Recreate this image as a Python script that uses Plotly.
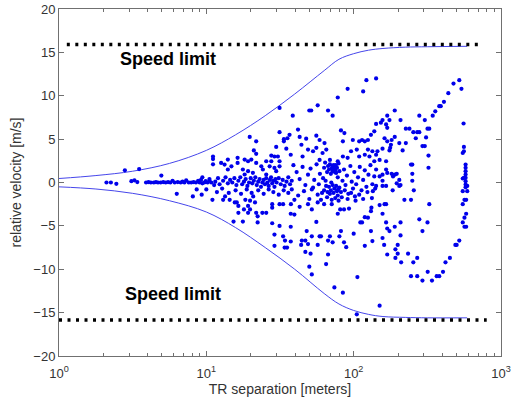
import plotly.graph_objects as go

# ---------------- data ----------------
sep = [
    # near-zero strip, short range
    2.1, 2.25, 2.45, 2.8, 3.1, 3.25, 3.5, 3.4, 3.9, 4.05, 4.2, 4.4, 4.55, 4.7, 4.95, 4.9, 5.1, 5.3, 5.5, 5.7,
    5.9, 6.1, 6.3, 6.4, 6.7, 6.9, 7.1, 7.3, 7.6, 7.9, 8.1, 8.2, 8.5, 8.6, 8.8, 9.0, 9.2, 9.4, 9.7, 9.9,
    10.2, 10.5, 10.8, 11.1, 11.1, 11.3,
    # 11-38 m, positive
    19.7, 31.4, 33.6, 33.6, 21.8, 21.0, 21.8, 29.8, 29.0, 27.6, 30.6, 31.4, 34.9, 11.1, 12.6, 13.3, 14.0, 16.3, 16.3, 14.8,
    14.0, 18.2, 19.2, 20.2, 21.8, 23.6, 25.5, 26.9, 27.6, 29.0, 17.7, 19.2, 20.7, 18.2, 24.2, 25.5, 29.8, 31.4, 31.4,
    # 9-38 m, dense strip
    9.4, 10.5, 11.5, 12.0, 12.3, 13.0, 13.5, 14.0, 14.5, 15.0, 15.5, 16.0, 16.5, 17.0, 17.5, 18.0, 18.5, 19.0, 19.5, 20.0,
    20.5, 21.0, 21.5, 22.0, 22.5, 23.0, 23.5, 24.0, 24.5, 25.0, 25.5, 26.0, 26.5, 27.0, 27.5, 28.0, 28.5, 29.0, 29.5, 30.0,
    31.0, 32.0, 33.0, 34.0, 35.0, 36.0, 37.0, 38.0,
    10.0, 11.8, 12.8, 14.2, 15.8, 17.2, 18.8, 20.3, 22.5, 24.5, 26.5, 28.5, 31.0, 33.5, 36.0,
    # 9-38 m, negative
    9.3, 11.0, 13.0, 13.4, 14.4, 15.6, 16.5, 16.1, 18.4, 19.8, 20.8, 21.4, 19.2, 18.0, 19.8, 16.5, 19.2, 21.8, 24.0, 25.5,
    22.3, 15.3, 17.7, 22.3, 28.0, 31.4, 28.0, 28.0, 31.4, 33.2, 29.0, 33.2, 34.2, 29.0, 35.3,
    # 38-145 m, positive
    122, 142, 91, 116, 78, 57, 51.5, 50, 67, 72, 38.6, 142, 41.9, 82, 86.5, 138, 131, 125, 119, 36.7,
    35.5, 43, 47.6, 55.8, 58.7, 84.5, 98.7, 109, 114, 44.2, 49, 53, 55.8, 63.4, 65.2, 61.5, 37.4, 45, 58.7, 69,
    78, 84.5, 91, 96, 105, 109, 119, 125, 128, 134, 142, 138,
    # 38-145 m, dense middle
    39, 41, 43, 45, 47, 49, 51, 52, 54, 56, 58, 59, 61, 62, 63, 64, 65, 66, 67, 68,
    69, 70, 71, 72, 73, 74, 75, 76, 77, 78, 79, 80, 68, 70, 72, 73, 74, 76, 77, 78,
    80, 82, 84, 86, 88, 90, 92, 95, 97, 99, 101, 104, 107, 110, 113, 116, 119, 122, 126, 130,
    134, 138, 142,
    38, 42, 46, 50, 53, 57, 60, 63, 66, 69, 71, 75, 79, 83, 87, 91, 96, 103, 109, 116,
    124, 133, 140,
    71.5, 73.5, 75.5, 74.5, 72.5, 76.5, 70.5, 78.5, 66.5, 64.5,
    # 38-145 m, negative
    39.6, 37.5, 43, 49, 52, 57, 63, 71, 81, 86, 93, 102, 131, 135, 37.4, 39.6, 78, 119, 125, 132,
    55.8, 111, 114, 37.4, 48, 52, 58.7, 60, 69, 80, 82, 100, 131, 37.4, 34, 44.5, 47, 49, 44, 57,
    67, 72, 86, 89, 119, 134, 47, 51, 67, 50, 52, 65, 106, 74, 84.5, 105, 150,
    # 145-600 m, positive
    521, 476, 539, 439, 410, 390, 381, 358, 344, 279, 304, 326, 190, 169, 175, 157, 208, 153, 166, 169,
    226, 239, 254, 270, 279, 264, 310, 317, 162, 169, 181, 190, 204, 226, 179, 177, 175, 157, 215, 293,
    304, 322, 322, 245, 250, 150, 145, 166, 557, 560, 560, 550, 575, 575, 575, 575, 575, 560, 550, 575,
    575, 575,
    166, 169, 157, 150, 181, 185, 190, 196, 204, 250, 250, 208, 196, 157, 166,
    # 145-600 m, negative
    142, 157, 204, 184, 256, 221, 245, 150, 162, 166, 326, 157, 166, 190, 208, 279, 317, 169, 175, 293,
    208, 157, 161, 199, 192, 199, 169, 192, 210, 234, 254, 270, 245, 270, 293, 318, 340, 366, 381, 404,
    420, 450, 490, 500, 521, 550, 565, 580, 565, 580, 550, 565, 580, 550, 590, 590,
]

rel_vel = [
    0.0, 0.0, -0.15, 1.4, 0.15, 0.25, 1.55, 0.05, 0.0, 0.05, 0.0, 0.0, 0.05, 0.0, 0.8, 0.0, 0.05, 0.0, 0.05, 0.0,
    0.2, 0.0, -1.3, 0.05, 0.0, 0.1, 0.0, 0.25, 0.0, 0.0, -1.6, 0.05, 0.0, -0.8, 0.2, 0.0, 0.3, -0.1, 0.0, 0.15,
    0.0, 0.2, 0.0, 3.0, 2.1, -0.3,
    5.25, 5.8, 5.0, 4.75, 4.75, 3.7, 3.3, 4.1, 3.0, 3.1, 3.0, 2.45, 3.9, 2.7, 2.26, 2.07, 2.64, 2.84, 2.26, 1.87,
    1.5, 2.64, 2.45, 2.64, 2.26, 1.87, 2.45, 1.87, 2.45, 1.68, 1.5, 1.3, 1.11, 0.92, 1.5, 0.92, 1.3, 1.87, 8.6,
    0.6, 0.4, 0.1, 0.5, -0.2, 0.2, 0.6, -0.1, 0.3, 0.0, 0.5, -0.3, 0.2, 0.6, -0.2, 0.1, 0.4, -0.4, 0.0, 0.5,
    -0.1, 0.2, 0.6, -0.3, 0.1, 0.4, -0.5, 0.0, 0.3, -0.2, 0.5, 0.0, -0.4, 0.3, 0.6, -0.1, 0.2, -0.5, 0.4, 0.0,
    0.5, -0.2, 0.3, -0.4, 0.1, 0.6, -0.2, 0.2,
    -0.8, -1.1, -0.7, -1.2, -0.9, -1.3, -0.8, -1.2, -0.9, -1.3, -0.8, -1.1, -1.4, -0.9, -1.2,
    -1.4, -2.0, -2.0, -1.6, -2.0, -2.3, -2.7, -2.3, -2.0, -2.1, -1.6, -2.3, -2.7, -3.1, -3.1, -3.5, -3.5, -3.5, -3.5, -3.5,
    -3.9, -4.5, -4.5, -4.6, -4.7, -5.0, -2.5, -2.9, -2.5, -2.5, -6.0, -6.2, -6.7, -7.3, -7.5,
    11.8, 12.0, 10.8, 10.5, 9.8, 8.9, 8.3, 8.3, 8.3, 7.7, 7.7, 6.75, 6.1, 6.0, 5.7, 5.9, 5.5, 4.9, 4.75, 5.5,
    5.1, 5.25, 5.05, 5.4, 4.9, 4.75, 4.9, 4.75, 4.9, 4.35, 3.8, 3.6, 4.0, 4.55, 3.8, 3.4, 3.2, 3.0, 2.6, 2.6,
    2.45, 3.0, 2.85, 3.6, 3.8, 3.0, 3.2, 3.8, 3.0, 3.6, 3.2, 2.45,
    2.0, 1.2, 0.4, 1.8, -0.3, 0.9, 1.6, -0.8, 0.3, 2.1, -0.2, 1.0, -1.2, 0.5, 1.7, 2.3, -0.4, 1.2, 1.9, 1.5,
    2.1, 1.0, 1.6, 1.3, 2.0, 1.8, 1.4, 1.1, 1.7, 0.6, 2.2, 1.3, -0.5, -0.9, -0.3, -1.2, -0.7, -0.4, -1.0, -1.5,
    -0.6, -1.1, 0.2, 1.5, -0.3, 0.8, -1.3, 1.9, 0.1, -0.7, 1.2, -0.2, 0.6, 1.8, -0.9, 0.3, 1.4, -0.5, 0.9, 2.0,
    -0.2, 0.7, 1.5,
    -0.8, -1.5, -1.0, -1.9, -0.6, -1.4, -2.0, -0.9, -1.7, -1.3, -2.0, -1.8, -2.1, -1.7, -0.9, -1.9, -1.2, -2.1, -1.4, -1.9,
    -1.1, -1.8, -0.7,
    1.9, 1.6, 2.0, 1.2, 1.5, 1.7, 0.0, -0.8, -1.1, 0.2,
    -2.0, -2.5, -2.8, -2.5, -3.1, -2.3, -2.5, -2.5, -3.1, -3.1, -3.0, -1.6, -3.3, -1.0, -3.6, -3.7, -3.6, -4.0, -4.05, -2.9,
    -4.55, -4.6, -4.6, -5.1, -5.6, -6.2, -6.2, -6.2, -6.2, -6.2, -5.6, -5.9, -5.6, -6.8, -7.5, -6.7, -6.7, -7.1, -7.2, -7.2,
    -6.7, -6.9, -6.9, -7.45, -7.3, -6.75, -8.0, -8.2, -8.3, -9.7, -10.6, -9.4, -10.9, -12.1, -12.7, -15.2, -14.2,
    11.8, 11.4, 10.8, 10.3, 9.3, 8.8, 8.8, 8.2, 7.7, 7.7, 7.2, 6.2, 8.3, 7.7, 7.2, 7.2, 7.2, 6.9, 6.7, 6.3,
    6.2, 6.2, 5.8, 5.8, 5.8, 5.1, 5.2, 6.2, 5.1, 4.75, 4.9, 5.25, 4.55, 4.55, 4.35, 4.0, 3.7, 3.9, 3.7, 4.2,
    4.2, 3.1, 1.7, 2.07, 2.07, 2.6, 3.6, 2.45, 6.8, 4.1, 3.6, 3.4, 2.07, 1.7, 1.3, 0.92, 0.54, 0.54, 0.46, 0.15,
    -0.23, -0.54,
    1.5, 1.1, 0.9, 0.7, 1.0, 0.7, 0.9, 1.0, 0.3, 1.0, 0.2, -0.3, -0.1, 0.2, -0.4,
    -0.4, -0.4, -0.4, -0.9, -0.9, -2.0, -2.0, -2.6, -2.5, -2.5, -2.5, -3.6, -4.6, -5.1, -4.6, -4.25, -4.6, -5.3, -5.6, -5.6,
    -6.1, -6.4, -7.2, -7.2, -7.7, -8.2, -8.3, -8.7, -9.2, -8.2, -9.2, -8.7, -10.8, -10.8, -11.3, -10.3, -11.3, -10.8, -10.8, -10.3,
    -9.2, -8.7, -7.2, -7.2, -6.7, -4.6, -5.1, -5.1, -4.05, -3.6, -2.5, -2.0, -2.0, -1.0, -1.0, -0.4,
]

# envelope curves
env_x = [1.0, 1.78, 3.16, 5.62, 10.0, 15.8, 25.1, 39.8, 63.1, 79.4, 100, 126, 158, 224, 316, 589]
env_up_y = [0.46, 0.8, 1.3, 2.2, 3.7, 5.5, 7.7, 10.2, 12.9, 14.2, 14.85, 15.25, 15.45, 15.6, 15.65, 15.7]
env_lo_y = [-0.5, -0.75, -1.25, -2.1, -3.4, -5.2, -7.5, -10.0, -12.8, -14.0, -14.75, -15.2, -15.45, -15.55, -15.6, -15.6]

# speed limit lines
limit_up_x = [1.13, 700]
limit_up_y = [15.9, 15.9]
limit_lo_x = [1.0, 800]
limit_lo_y = [-15.85, -15.85]
limit_label = "Speed limit"

y_ticks = [-20, -15, -10, -5, 0, 5, 10, 15, 20]
x_ticks = [1, 10, 100, 1000]
x_ticktext = ["10<sup>0</sup>", "10<sup>1</sup>", "10<sup>2</sup>", "10<sup>3</sup>"]
x_minor = [2, 3, 4, 5, 6, 7, 8, 9, 20, 30, 40, 50, 60, 70, 80, 90, 200, 300, 400, 500, 600, 700, 800, 900]

# ---------------- figure ----------------
fig = go.Figure()

curve_line = dict(color="rgb(70,70,235)", width=1, shape="spline", smoothing=1.0)
fig.add_trace(go.Scatter(x=env_x, y=env_up_y, mode="lines", line=curve_line, hoverinfo="skip"))
fig.add_trace(go.Scatter(x=env_x, y=env_lo_y, mode="lines", line=curve_line, hoverinfo="skip"))
fig.add_trace(go.Scatter(x=sep, y=rel_vel, mode="markers",
                         marker=dict(color="rgb(0,0,235)", size=4.2, line=dict(width=0))))
fig.add_trace(go.Scatter(x=limit_up_x, y=limit_up_y, mode="lines",
                         line=dict(color="black", width=3.5, dash="3px,5.5px")))
fig.add_trace(go.Scatter(x=limit_lo_x, y=limit_lo_y, mode="lines",
                         line=dict(color="black", width=3.5, dash="3px,5.5px")))

label_font = dict(family="Liberation Sans Narrow, Arial Narrow, Liberation Sans, Arial", size=18, color="black")
fig.add_annotation(x=0.742, y=14.2, xref="x", yref="y", text="<b>" + limit_label + "</b>", showarrow=False,
                   font=label_font)
fig.add_annotation(x=0.776, y=-12.8, xref="x", yref="y", text="<b>" + limit_label + "</b>", showarrow=False,
                   font=label_font)

axis_col = "#707070"
tick_font = dict(family="Liberation Sans, Arial", size=13, color="#333333")
title_font = dict(family="Liberation Sans, Arial", size=14, color="#333333")

fig.update_layout(
    width=521, height=400,
    margin=dict(l=59, r=20, t=9, b=44, autoexpand=False),
    paper_bgcolor="white", plot_bgcolor="white",
    showlegend=False,
    xaxis=dict(
        type="log", range=[0, 3], automargin=False,
        tickvals=x_ticks, ticktext=x_ticktext,
        ticks="inside", ticklen=5, tickcolor=axis_col, tickwidth=1,
        ticklabelstandoff=5,
        minor=dict(tickvals=x_minor, ticks="inside", ticklen=3, tickcolor=axis_col, showgrid=False),
        showline=True, linecolor=axis_col, linewidth=1, mirror="ticks",
        showgrid=False, zeroline=False,
        tickfont=tick_font,
        title=dict(text="TR separation [meters]", font=title_font, standoff=2),
    ),
    yaxis=dict(
        range=[-20, 20], automargin=False,
        tickvals=y_ticks,
        ticks="inside", ticklen=5, tickcolor=axis_col, tickwidth=1,
        showline=True, linecolor=axis_col, linewidth=1, mirror="ticks",
        showgrid=False, zeroline=False,
        tickfont=tick_font,
        title=dict(text="relative velocity [m/s]", font=title_font, standoff=8),
    ),
)

fig.write_html("out.html")
